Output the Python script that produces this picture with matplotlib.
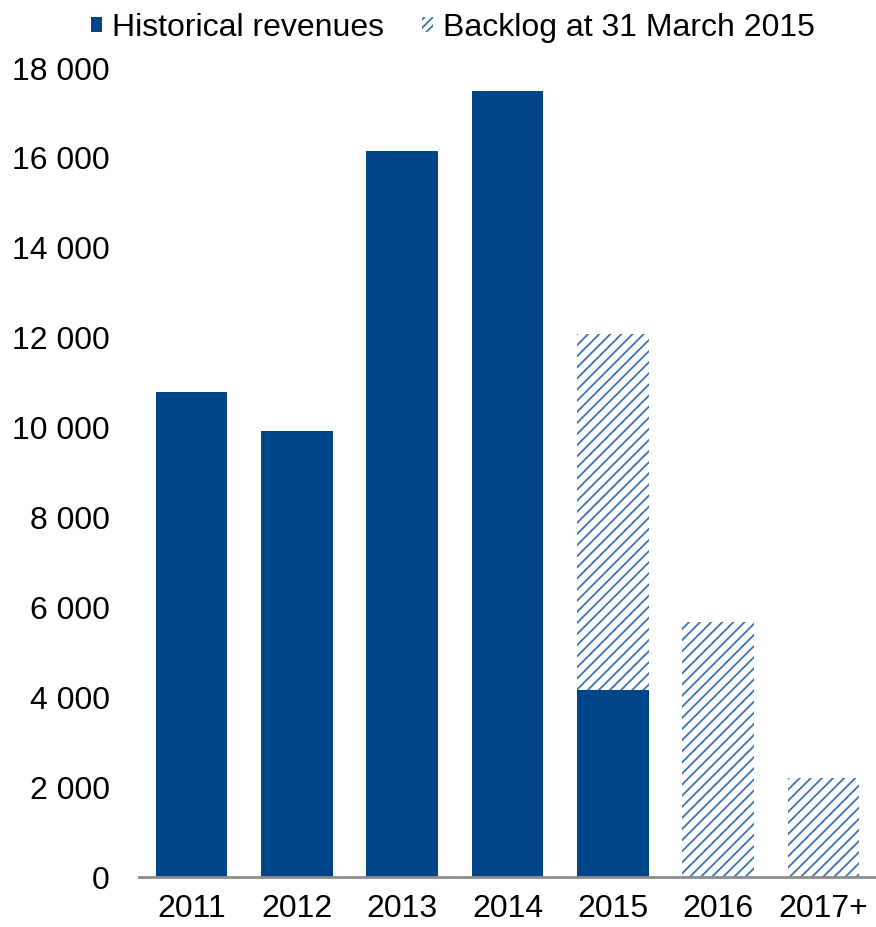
import matplotlib.pyplot as plt
from matplotlib.patches import Patch
from matplotlib.ticker import FuncFormatter

plt.rcParams['font.family'] = ['Liberation Sans', 'DejaVu Sans']
plt.rcParams['hatch.linewidth'] = 1.3

years = ["2011", "2012", "2013", "2014", "2015", "2016", "2017+"]
historical = [10800, 9930, 16150, 17490, 4160, 0, 0]
backlog = [0, 0, 0, 0, 7920, 5670, 2200]

solid_blue = "#004489"
hatch_blue = "#3d72b4"

fig = plt.figure(figsize=(8.76, 9.27), dpi=100)
ax = fig.add_axes([0.1587, 0.0539, 0.8413, 0.8727])

x = range(len(years))
ax.bar(x, historical, width=0.68, color=solid_blue, linewidth=0)
ax.bar(x, backlog, width=0.68, bottom=historical, color="white",
       edgecolor=hatch_blue, hatch="///", linewidth=0)

ax.set_xlim(-0.5, len(years) - 0.5)
ax.set_ylim(0, 18000)
ax.set_yticks(range(0, 18001, 2000))
ax.yaxis.set_major_formatter(FuncFormatter(lambda v, p: f"{int(v):,}".replace(",", " ")))
ax.set_xticks(list(x))
ax.set_xticklabels(years)
ax.tick_params(axis="both", length=0, labelsize=23)
ax.tick_params(axis="y", pad=21)
ax.tick_params(axis="x", pad=12)

for s in ["top", "right", "left"]:
    ax.spines[s].set_visible(False)
ax.spines["bottom"].set_color("#8c8c8c")
ax.spines["bottom"].set_linewidth(2)

handles = [
    Patch(facecolor=solid_blue, edgecolor="none", label="Historical revenues"),
    Patch(facecolor="white", edgecolor=hatch_blue, hatch="////", linewidth=0,
          label="Backlog at 31 March 2015"),
]
fig.legend(handles=handles, loc="upper center", bbox_to_anchor=(0.517, 1.017),
           ncol=2, frameon=False, fontsize=23, handlelength=0.34, handleheight=0.34,
           handletextpad=0.3, columnspacing=1.2)

fig.savefig("out.png", dpi=100)
